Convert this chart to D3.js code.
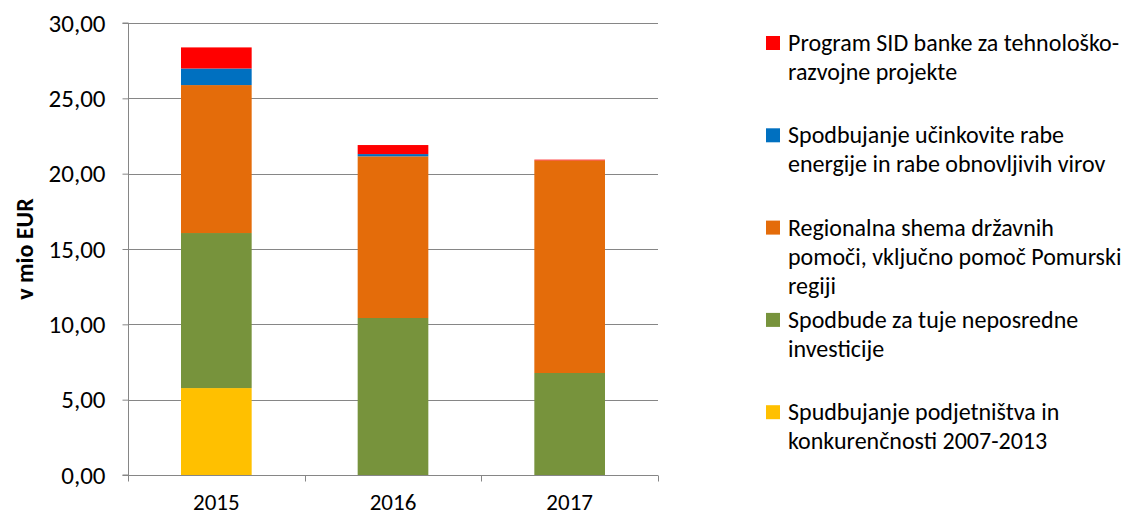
<!DOCTYPE html>
<html>
<head>
<meta charset="utf-8">
<script src="https://cdn.jsdelivr.net/npm/d3@7"></script>
<style>
  html, body { margin: 0; padding: 0; background: #fff; }
  svg { display: block; }
  text { font-family: Carlito, Calibri, "Open Sans", sans-serif; fill: #000; }
</style>
</head>
<body>
<svg id="chart" width="1129" height="520"></svg>
<script>
// Years on the category axis
const years = ["2015", "2016", "2017"];

// Stacked series, bottom to top (mio EUR)
const seriesNames = [
  "Spudbujanje podjetništva in konkurenčnosti 2007-2013",
  "Spodbude za tuje neposredne investicije",
  "Regionalna shema državnih pomoči, vključno pomoč Pomurski regiji",
  "Spodbujanje učinkovite rabe energije in rabe obnovljivih virov",
  "Program SID banke za tehnološko-razvojne projekte"
];
const podjetnistvo = [5.77, 0, 0];
const tujeInvesticije = [10.29, 10.42, 6.77];
const regionalnaShema = [9.82, 10.73, 14.11];
const ucinkovitaRaba = [1.10, 0.15, 0];
const sidBanka = [1.40, 0.60, 0.05];

// Legend lines, wrapped as in the legend box (top entry first)
const legendLines = [
  ["Program SID banke za tehnološko-", "razvojne projekte"],
  ["Spodbujanje učinkovite rabe", "energije in rabe obnovljivih virov"],
  ["Regionalna shema državnih", "pomoči, vključno pomoč Pomurski", "regiji"],
  ["Spodbude za tuje neposredne", "investicije"],
  ["Spudbujanje podjetništva in", "konkurenčnosti 2007-2013"]
];

const yTicks = [0, 5, 10, 15, 20, 25, 30];
const colors = ["#FFC000", "#77933C", "#E46C0A", "#0070C0", "#FF0000"];

const seriesValues = [podjetnistvo, tujeInvesticije, regionalnaShema, ucinkovitaRaba, sidBanka];
const rows = years.map((y, i) => {
  const r = { year: y };
  seriesNames.forEach((n, k) => { r[n] = seriesValues[k][i]; });
  return r;
});

const svg = d3.select("#chart");
const plot = { left: 128, right: 658, top: 23, bottom: 475 };

const x = d3.scaleBand().domain(years).range([plot.left, plot.right]).paddingInner(0.6).paddingOuter(0.3);
const xEdges = d3.scaleLinear().domain([0, years.length]).range([plot.left, plot.right]);
const y = d3.scaleLinear().domain([0, 30]).range([plot.bottom, plot.top]);

const fmt = v => d3.format(".2f")(v).replace(".", ",");

// Horizontal gridlines
svg.append("g")
  .selectAll("line")
  .data(yTicks.filter(t => t > 0))
  .join("line")
  .attr("x1", plot.left).attr("x2", plot.right)
  .attr("y1", d => Math.round(y(d)) + 0.5).attr("y2", d => Math.round(y(d)) + 0.5)
  .attr("stroke", "#868686").attr("stroke-width", 1);

// Stacked bars
const stack = d3.stack().keys(seriesNames)(rows);
svg.append("g")
  .selectAll("g")
  .data(stack)
  .join("g")
  .attr("fill", (d, i) => colors[i])
  .selectAll("rect")
  .data(d => d)
  .join("rect")
  .attr("x", d => x(d.data.year))
  .attr("width", x.bandwidth())
  .attr("y", d => y(d[1]))
  .attr("height", d => y(d[0]) - y(d[1]));

// Y axis
const yAxis = svg.append("g")
  .attr("transform", `translate(${plot.left + 0.5},0)`)
  .call(d3.axisLeft(y).tickValues(yTicks).tickFormat(fmt).tickSize(6).tickPadding(17));
yAxis.select(".domain").attr("stroke", "#868686").attr("d", `M-6,${plot.top}H0V${plot.bottom}H-6`);
yAxis.selectAll(".tick line").attr("stroke", "#868686");
yAxis.selectAll(".tick text").style("font-size", "25px").attr("fill", "#000");

// X axis with boundary ticks between categories
const xAxisG = svg.append("g").attr("transform", `translate(0,${plot.bottom + 0.5})`);
xAxisG.append("line")
  .attr("x1", plot.left).attr("x2", plot.right)
  .attr("stroke", "#868686");
xAxisG.selectAll("line.tick")
  .data(d3.range(years.length + 1))
  .join("line")
  .attr("class", "tick")
  .attr("x1", d => Math.round(xEdges(d)) + 0.5).attr("x2", d => Math.round(xEdges(d)) + 0.5)
  .attr("y1", 0).attr("y2", 6)
  .attr("stroke", "#868686");
xAxisG.selectAll("text")
  .data(years)
  .join("text")
  .attr("x", d => x(d) + x.bandwidth() / 2)
  .attr("y", 34)
  .attr("text-anchor", "middle")
  .style("font-size", "23px")
  .text(d => d);

// Y axis title
svg.append("text")
  .attr("transform", `translate(33,${(plot.top + plot.bottom) / 2}) rotate(-90)`)
  .attr("text-anchor", "middle")
  .style("font-size", "24px")
  .style("font-weight", "bold")
  .text("v mio EUR");

// Legend
const legend = svg.append("g").attr("transform", "translate(766,0)");
const slot = 92.3;
const legendColors = colors.slice().reverse();
legendLines.forEach((lines, i) => {
  const base = 51 + i * slot;
  legend.append("rect")
    .attr("x", 0).attr("y", base - 15)
    .attr("width", 14).attr("height", 14)
    .attr("fill", legendColors[i]);
  const t = legend.append("text")
    .attr("x", 22).attr("y", base)
    .style("font-size", "24px");
  lines.forEach((ln, j) => {
    t.append("tspan").attr("x", 22).attr("y", base + j * 29).text(ln);
  });
});
</script>
</body>
</html>
